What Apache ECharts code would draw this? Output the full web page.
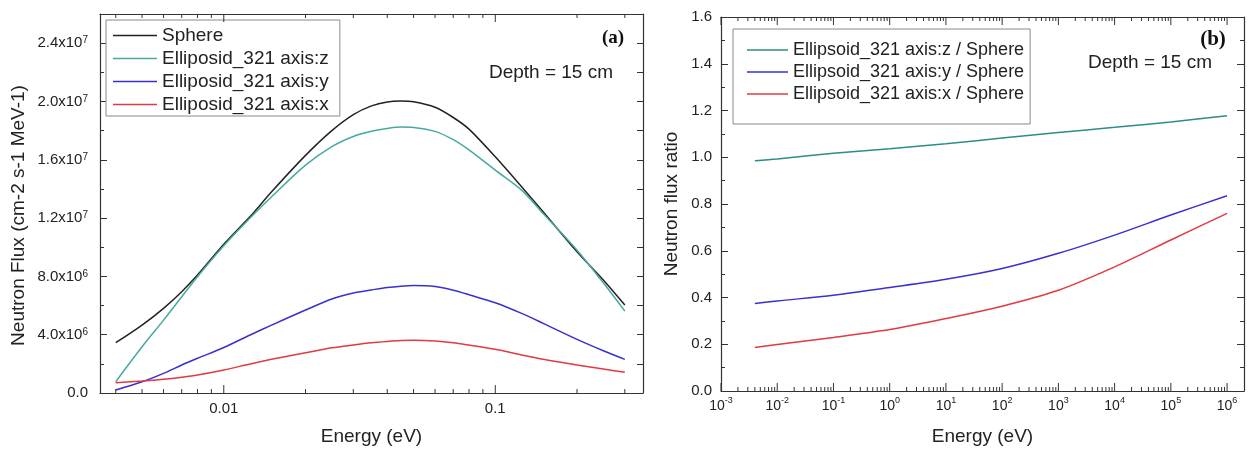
<!DOCTYPE html>
<html>
<head>
<meta charset="utf-8">
<script src="https://cdn.jsdelivr.net/npm/echarts@6/dist/echarts.min.js"></script>
<style>
  html, body { margin: 0; padding: 0; background: #fff; }
  #chart { width: 1248px; height: 451px; }
</style>
</head>
<body>
<div id="chart"></div>
<script>
// ---- (a) neutron flux spectra at 15 cm depth ----
const fluxEnergy = [0.004, 0.005, 0.006, 0.007, 0.008, 0.01, 0.0125, 0.015, 0.02, 0.025, 0.03, 0.035,
                    0.04, 0.045, 0.05, 0.06, 0.07, 0.08, 0.1, 0.125, 0.15, 0.2, 0.25, 0.3];
const fluxSphere = [3.45e6, 4.66e6, 5.81e6, 6.95e6, 8.09e6, 1.02e7, 1.21e7, 1.38e7, 1.63e7, 1.80e7, 1.91e7, 1.97e7,
                    1.997e7, 2.003e7, 1.998e7, 1.96e7, 1.89e7, 1.81e7, 1.62e7, 1.415e7, 1.243e7, 9.69e6, 7.75e6, 6.03e6];
const fluxAxisZ  = [7.7e5, 3.17e6, 5.0e6, 6.6e6, 7.98e6, 1.01e7, 1.20e7, 1.346e7, 1.563e7, 1.69e7, 1.76e7, 1.795e7,
                    1.815e7, 1.824e7, 1.822e7, 1.795e7, 1.738e7, 1.668e7, 1.529e7, 1.392e7, 1.232e7, 9.8e6, 7.56e6, 5.62e6];
const fluxAxisY  = [2.1e5, 7.7e5, 1.35e6, 1.92e6, 2.38e6, 3.12e6, 3.98e6, 4.66e6, 5.69e6, 6.45e6, 6.86e6, 7.07e6,
                    7.24e6, 7.33e6, 7.37e6, 7.3e6, 7.05e6, 6.74e6, 6.19e6, 5.46e6, 4.78e6, 3.68e6, 2.9e6, 2.31e6];
const fluxAxisX  = [7.1e5, 8.2e5, 9.4e5, 1.08e6, 1.23e6, 1.58e6, 1.99e6, 2.31e6, 2.76e6, 3.1e6, 3.3e6, 3.45e6,
                    3.54e6, 3.6e6, 3.62e6, 3.57e6, 3.45e6, 3.29e6, 3.0e6, 2.61e6, 2.31e6, 1.92e6, 1.65e6, 1.42e6];
const fluxNames  = ['Sphere', 'Elliposid_321 axis:z', 'Elliposid_321 axis:y', 'Elliposid_321 axis:x'];
const fluxMajorTicks = [0.01, 0.1];
const fluxMinorTicks = [0.004, 0.005, 0.006, 0.007, 0.008, 0.009,
                        0.02, 0.03, 0.04, 0.05, 0.06, 0.07, 0.08, 0.09, 0.2, 0.3];

// ---- (b) flux ratio to the sphere ----
const ratioEnergy = [0.004, 0.01, 0.1, 1, 10, 100, 1e3, 1e4, 1e5, 1e6];
const ratioZ = [0.985, 0.993, 1.017, 1.036, 1.058, 1.082, 1.106, 1.128, 1.151, 1.178];
const ratioY = [0.374, 0.385, 0.410, 0.443, 0.478, 0.524, 0.589, 0.667, 0.753, 0.835];
const ratioX = [0.186, 0.199, 0.229, 0.263, 0.310, 0.363, 0.431, 0.531, 0.646, 0.760];
const ratioNames = ['Ellipsoid_321 axis:z / Sphere', 'Ellipsoid_321 axis:y / Sphere', 'Ellipsoid_321 axis:x / Sphere'];
const ratioMajorExp = [-3, -2, -1, 0, 1, 2, 3, 4, 5, 6];
const ratioMajorTicks = ratioMajorExp.map(e => Math.pow(10, e));
const ratioMinorTicks = [];
ratioMajorExp.slice(0, -1).forEach(e => {
  for (let m = 2; m <= 9; m++) ratioMinorTicks.push(m * Math.pow(10, e));
});

const annotation = 'Depth = 15 cm';

const FONT = "'Liberation Sans', Arial, Helvetica, sans-serif";
const SERIF = "'Liberation Serif', 'Times New Roman', serif";
const INK = '#222';
const FRAME = '#333';
const COLORS_A = ['#222222', '#45aaa0', '#3a30d0', '#e03a44'];
const COLORS_B = ['#2a8f82', '#3a30d0', '#e03a44'];

const isPow10 = v => { const e = Math.log10(v); return Math.abs(e - Math.round(e)) < 1e-6; };

function fluxLabel(v) {
  if (v % 4e6 !== 0) return '';
  if (v === 0) return '{b|0.0}';
  const e = Math.floor(Math.log10(v) + 1e-9);
  const m = v / Math.pow(10, e);
  return '{b|' + m.toFixed(1) + 'x10}{s|' + e + '}';
}
function fluxEnergyLabel(v) {
  if (!isPow10(v)) return '';
  const e = Math.round(Math.log10(v));
  return e < 0 ? Math.pow(10, e).toFixed(-e) : String(Math.pow(10, e));
}
function ratioEnergyLabel(v) {
  if (!isPow10(v)) return '';
  return '{b|10}{s|' + Math.round(Math.log10(v)) + '}';
}

// Inward tick marks on the bottom and top edges of a log-scaled grid
function tickSeries(major, minor, xIdx, yIdx, yLo, yHi, majorLen, minorLen) {
  const data = major.map(v => [v, 1]).concat(minor.map(v => [v, 0]));
  return {
    type: 'custom', xAxisIndex: xIdx, yAxisIndex: yIdx, silent: true, z: 10,
    data: data,
    renderItem: (params, api) => {
      const e = api.value(0);
      const len = api.value(1) ? majorLen : minorLen;
      const b = api.coord([e, yLo]);
      const t = api.coord([e, yHi]);
      const st = { stroke: FRAME, lineWidth: 1 };
      return { type: 'group', children: [
        { type: 'line', shape: { x1: b[0], y1: b[1], x2: b[0], y2: b[1] - len }, style: st },
        { type: 'line', shape: { x1: t[0], y1: t[1], x2: t[0], y2: t[1] + len }, style: st }
      ]};
    }
  };
}

const frameLine = { show: true, onZero: false, lineStyle: { color: FRAME, width: 1.2 } };
const noLabel = { show: false };
const noSplit = { show: false };

const fluxSets = [fluxSphere, fluxAxisZ, fluxAxisY, fluxAxisX];
const ratioSets = [ratioZ, ratioY, ratioX];

const option = {
  animation: false,
  backgroundColor: '#fff',
  grid: [
    { left: 100, top: 14, width: 543, height: 379 },
    { left: 721, top: 17, width: 523, height: 374 }
  ],
  xAxis: [
    { gridIndex: 0, type: 'log', logBase: 10, position: 'bottom', min: 0.0035, max: 0.35,
      name: 'Energy (eV)', nameLocation: 'middle', nameGap: 34,
      nameTextStyle: { fontSize: 19, color: INK, fontFamily: FONT },
      axisLine: frameLine, axisTick: { show: false }, splitLine: noSplit,
      axisLabel: { margin: 8, fontSize: 15, color: INK, fontFamily: FONT, formatter: fluxEnergyLabel } },
    { gridIndex: 0, type: 'log', logBase: 10, position: 'top', min: 0.0035, max: 0.35,
      axisLine: frameLine, axisTick: { show: false }, splitLine: noSplit, axisLabel: noLabel },
    { gridIndex: 1, type: 'log', logBase: 10, position: 'bottom', min: 0.001, max: 2e6, splitNumber: 10,
      name: 'Energy (eV)', nameLocation: 'middle', nameGap: 36,
      nameTextStyle: { fontSize: 19, color: INK, fontFamily: FONT },
      axisLine: frameLine, axisTick: { show: false }, splitLine: noSplit,
      axisLabel: { margin: 5, color: INK, fontFamily: FONT, formatter: ratioEnergyLabel,
        rich: { b: { fontSize: 14, color: INK, fontFamily: FONT },
                s: { fontSize: 9, color: INK, fontFamily: FONT, padding: [0, 0, 12, 0] } } } },
    { gridIndex: 1, type: 'log', logBase: 10, position: 'top', min: 0.001, max: 2e6, splitNumber: 10,
      axisLine: frameLine, axisTick: { show: false }, splitLine: noSplit, axisLabel: noLabel }
  ],
  yAxis: [
    { gridIndex: 0, type: 'value', position: 'left', min: 0, max: 2.6e7, interval: 4e6,
      name: 'Neutron Flux (cm-2 s-1 MeV-1)', nameLocation: 'middle', nameGap: 72,
      nameTextStyle: { fontSize: 19, color: INK, fontFamily: FONT, padding: [0, 24, 0, 0] },
      axisLine: frameLine, splitLine: noSplit,
      axisTick: { show: true, inside: true, length: 7, lineStyle: { color: FRAME } },
      axisLabel: { margin: 12, color: INK, fontFamily: FONT, formatter: fluxLabel,
        rich: { b: { fontSize: 15, color: INK, fontFamily: FONT },
                s: { fontSize: 10, color: INK, fontFamily: FONT, padding: [0, 0, 5, 0] } } } },
    { gridIndex: 0, type: 'value', position: 'left', min: 0, max: 2.6e7, interval: 2e6,
      axisLine: { show: false }, splitLine: noSplit, axisLabel: noLabel,
      axisTick: { show: true, inside: true, length: 4, lineStyle: { color: FRAME } } },
    { gridIndex: 0, type: 'value', position: 'right', min: 0, max: 2.6e7, interval: 2e6,
      axisLine: frameLine, splitLine: noSplit, axisLabel: noLabel,
      axisTick: { show: true, inside: true, length: 6, lineStyle: { color: FRAME } } },
    { gridIndex: 1, type: 'value', position: 'left', min: 0, max: 1.6, interval: 0.2,
      name: 'Neutron flux ratio', nameLocation: 'middle', nameGap: 40,
      nameTextStyle: { fontSize: 19, color: INK, fontFamily: FONT },
      axisLine: frameLine, splitLine: noSplit,
      axisTick: { show: true, inside: true, length: 7, lineStyle: { color: FRAME } },
      minorTick: { show: true, splitNumber: 2, length: 4, lineStyle: { color: FRAME } },
      axisLabel: { margin: 9, fontSize: 15, color: INK, fontFamily: FONT, formatter: v => v.toFixed(1) } },
    { gridIndex: 1, type: 'value', position: 'right', min: 0, max: 1.6, interval: 0.2,
      axisLine: frameLine, splitLine: noSplit, axisLabel: noLabel,
      axisTick: { show: true, inside: true, length: 7, lineStyle: { color: FRAME } },
      minorTick: { show: true, splitNumber: 2, length: 4, lineStyle: { color: FRAME } } }
  ],
  legend: [
    { orient: 'vertical', left: 106, top: 20, padding: [6, 11, 2, 7], itemGap: 4,
      icon: 'rect', itemWidth: 44, itemHeight: 1.6, borderColor: '#8a8a8a', borderWidth: 1, backgroundColor: '#fff',
      textStyle: { fontSize: 19, color: INK, fontFamily: FONT }, data: fluxNames, selectedMode: false },
    { orient: 'vertical', left: 733, top: 29, padding: [12, 6, 21, 14], itemGap: 4,
      icon: 'rect', itemWidth: 41, itemHeight: 1.6, borderColor: '#8a8a8a', borderWidth: 1, backgroundColor: '#fff',
      textStyle: { fontSize: 18, color: INK, fontFamily: FONT }, data: ratioNames, selectedMode: false }
  ],
  graphic: [
    { type: 'text', x: 551, y: 73, style: { text: annotation, fill: INK,
      font: '19px ' + FONT, align: 'center', verticalAlign: 'middle', textAlign: 'center', textVerticalAlign: 'middle' } },
    { type: 'text', x: 613, y: 38, style: { text: '(a)', fill: '#111',
      font: 'bold 19px ' + SERIF, align: 'center', verticalAlign: 'middle', textAlign: 'center', textVerticalAlign: 'middle' } },
    { type: 'text', x: 1150, y: 63, style: { text: annotation, fill: INK,
      font: '19px ' + FONT, align: 'center', verticalAlign: 'middle', textAlign: 'center', textVerticalAlign: 'middle' } },
    { type: 'text', x: 1213, y: 40, style: { text: '(b)', fill: '#111',
      font: 'bold 21px ' + SERIF, align: 'center', verticalAlign: 'middle', textAlign: 'center', textVerticalAlign: 'middle' } }
  ],
  series: [
    ...fluxNames.map((name, k) => ({
      name: name, type: 'line', xAxisIndex: 0, yAxisIndex: 0, symbol: 'none', smooth: 0.3,
      color: COLORS_A[k], lineStyle: { color: COLORS_A[k], width: 1.5 },
      data: fluxEnergy.map((e, i) => [e, fluxSets[k][i]])
    })),
    ...ratioNames.map((name, k) => ({
      name: name, type: 'line', xAxisIndex: 2, yAxisIndex: 3, symbol: 'none', smooth: 0.3,
      color: COLORS_B[k], lineStyle: { color: COLORS_B[k], width: 1.5 },
      data: ratioEnergy.map((e, i) => [e, ratioSets[k][i]])
    })),
    tickSeries(fluxMajorTicks, fluxMinorTicks, 0, 0, 0, 2.6e7, 8, 4),
    tickSeries(ratioMajorTicks, ratioMinorTicks, 2, 3, 0, 1.6, 8, 4)
  ]
};

const chart = echarts.init(document.getElementById('chart'), null, { renderer: 'canvas' });
chart.setOption(option);
</script>
</body>
</html>
